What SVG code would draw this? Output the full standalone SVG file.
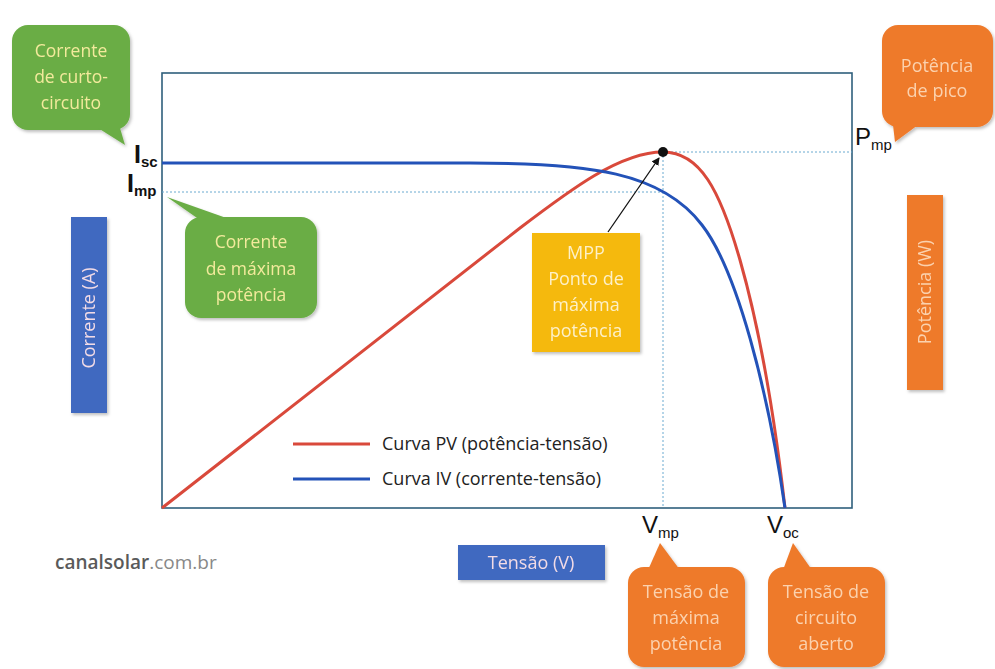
<svg xmlns="http://www.w3.org/2000/svg" width="995" height="669" viewBox="0 0 995 669">
<style>
  text { font-family: "Open Sans", "Liberation Sans", sans-serif; }
  .green { fill: #6aad45; }
  .orange { fill: #ee7a2c; }
  .blue { fill: #4069c0; }
  .yellow { fill: #f5b90c; }
  .gtxt { fill: #f3ea9c; font-size: 17.5px; text-anchor: middle; }
  .otxt { fill: #fbd2ae; font-size: 18px; text-anchor: middle; }
  .ytxt { fill: #fdf0c8; font-size: 18px; text-anchor: middle; }
  .btxt { fill: #f2dbe6; font-size: 18px; text-anchor: middle; }
  .lbl { font-family: "Liberation Sans", Arial, sans-serif; fill: #111; }
  .dot { stroke: #6aaad0; stroke-width: 1; stroke-dasharray: 2 2; fill: none; }
  .leg { font-size: 18px; fill: #222; }
</style>
<defs>
  <filter id="sh" x="-10%" y="-10%" width="130%" height="130%">
    <feDropShadow dx="1.5" dy="2" stdDeviation="1.5" flood-color="#000" flood-opacity="0.25"/>
  </filter>
  <marker id="ah" markerWidth="8" markerHeight="8" refX="7" refY="4" orient="auto" markerUnits="userSpaceOnUse">
    <path d="M0,0 L8,4 L0,8 z" fill="#111"/>
  </marker>
</defs>
<rect width="995" height="669" fill="#ffffff"/>

<g id="frame">
  <rect x="162" y="73" width="690" height="435" fill="none" stroke="#2f5f7c" stroke-width="1.6"/>
</g>

<g id="connectors">
  <path class="dot" d="M162,192 H663"/>
  <path class="dot" d="M663,152 H852"/>
  <path class="dot" d="M663,152 V508"/>
  <path id="curve-pv" d="M162,508 L520,228 C570,190 620,152 663,152 C700,152 720,190 740,260 C760,330 775,420 785,508" fill="none" stroke="#d9493b" stroke-width="3"/>
  <path id="curve-iv" d="M162,163 L470,163 C590,163 662,172 702,225 C737,270 768,390 785,508" fill="none" stroke="#2352b8" stroke-width="3"/>
  <line x1="608" y1="232" x2="659" y2="158" stroke="#111" stroke-width="1.3" marker-end="url(#ah)"/>
</g>

<g id="mpp-point">
  <circle cx="663" cy="152" r="5" fill="#111"/>
</g>

<g id="axis-labels">
  <text class="lbl" x="134" y="163" font-size="25" font-weight="bold">I<tspan font-size="15" dy="4">sc</tspan></text>
  <text class="lbl" x="127" y="192" font-size="25" font-weight="bold">I<tspan font-size="15" dy="4">mp</tspan></text>
  <text class="lbl" x="855" y="145" font-size="24">P<tspan font-size="15" dy="5">mp</tspan></text>
  <text class="lbl" x="642" y="533" font-size="24">V<tspan font-size="15" dy="5">mp</tspan></text>
  <text class="lbl" x="767" y="533" font-size="24">V<tspan font-size="15" dy="5">oc</tspan></text>
</g>

<g id="callout-isc" filter="url(#sh)">
  <rect class="green" x="12" y="25" width="118" height="105" rx="16"/>
  <polygon class="green" points="98,128 120,128 125,145"/>
  <text class="gtxt" x="71" y="57">Corrente</text>
  <text class="gtxt" x="71" y="83">de curto-</text>
  <text class="gtxt" x="71" y="109">circuito</text>
</g>

<g id="callout-imp" filter="url(#sh)">
  <rect class="green" x="185" y="217" width="132" height="101" rx="16"/>
  <polygon class="green" points="167,197 200,220 232,220"/>
  <text class="gtxt" x="251" y="248">Corrente</text>
  <text class="gtxt" x="251" y="275">de máxima</text>
  <text class="gtxt" x="251" y="301">potência</text>
</g>

<g id="callout-mpp" filter="url(#sh)">
  <rect class="yellow" x="532" y="233" width="108" height="119"/>
  <text class="ytxt" x="586" y="259">MPP</text>
  <text class="ytxt" x="586" y="285">Ponto de</text>
  <text class="ytxt" x="586" y="311">máxima</text>
  <text class="ytxt" x="586" y="337">potência</text>
</g>

<g id="callout-pico" filter="url(#sh)">
  <rect class="orange" x="882" y="25" width="111" height="102" rx="16"/>
  <polygon class="orange" points="893,125 918,125 895,142"/>
  <text class="otxt" x="937" y="72">Potência</text>
  <text class="otxt" x="937" y="97">de pico</text>
</g>

<g id="axis-potencia" filter="url(#sh)">
  <rect class="orange" x="907" y="195" width="36" height="195"/>
  <text class="otxt" transform="translate(931,292) rotate(-90)" x="0" y="0">Potência (W)</text>
</g>

<g id="axis-corrente" filter="url(#sh)">
  <rect class="blue" x="71" y="217" width="36" height="196"/>
  <text class="btxt" transform="translate(95,318) rotate(-90)" x="0" y="0">Corrente (A)</text>
</g>

<g id="axis-tensao" filter="url(#sh)">
  <rect class="blue" x="458" y="545" width="147" height="35"/>
  <text class="btxt" x="531" y="569">Tensão (V)</text>
</g>

<g id="callout-vmp" filter="url(#sh)">
  <rect class="orange" x="628" y="567" width="117" height="100" rx="16"/>
  <polygon class="orange" points="660,543 648,570 680,570"/>
  <text class="otxt" x="686" y="598">Tensão de</text>
  <text class="otxt" x="686" y="624">máxima</text>
  <text class="otxt" x="686" y="650">potência</text>
</g>

<g id="callout-voc" filter="url(#sh)">
  <rect class="orange" x="768" y="567" width="117" height="100" rx="16"/>
  <polygon class="orange" points="793,543 783,570 812,570"/>
  <text class="otxt" x="826" y="598">Tensão de</text>
  <text class="otxt" x="826" y="624">circuito</text>
  <text class="otxt" x="826" y="650">aberto</text>
</g>

<g id="legend">
  <line x1="293" y1="444" x2="370" y2="444" stroke="#d9493b" stroke-width="3"/>
  <text class="leg" x="382" y="450">Curva PV (potência-tensão)</text>
  <line x1="293" y1="479" x2="370" y2="479" stroke="#2352b8" stroke-width="3"/>
  <text class="leg" x="382" y="485">Curva IV  (corrente-tensão)</text>
</g>

<g id="source">
  <text x="55" y="569" font-size="19" fill="#5a5a5a"><tspan font-weight="600">canalsolar</tspan><tspan fill="#888">.com.br</tspan></text>
</g>
</svg>
